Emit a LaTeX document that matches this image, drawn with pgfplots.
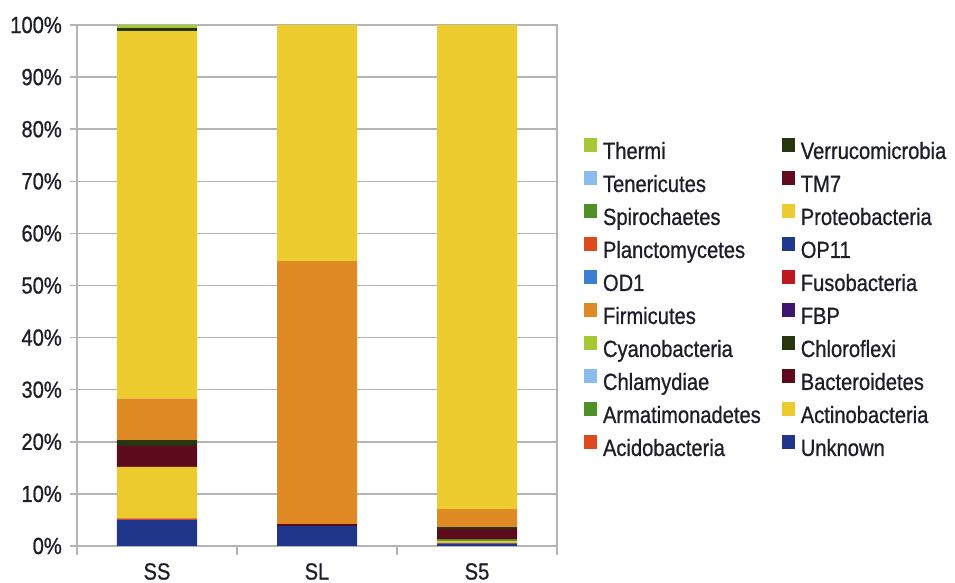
\documentclass[border=0pt]{standalone}
\usepackage{fontspec}
\setmainfont{Liberation Sans}[FakeStretch=0.86, FakeBold=0.8]
\usepackage{pgfplots}
\pgfplotsset{compat=1.18}
\usepackage{pgfplotstable}

\definecolor{tc}{HTML}{1E1E2A}
\definecolor{gc}{HTML}{B4B4B4}
\definecolor{cUnknown}{HTML}{20368A}
\definecolor{cAcido}{HTML}{DE4A1E}
\definecolor{cActino}{HTML}{EBCB2E}
\definecolor{cArmat}{HTML}{4E8F28}
\definecolor{cBactero}{HTML}{5C0A1C}
\definecolor{cChlamy}{HTML}{8CBCEB}
\definecolor{cChloro}{HTML}{26360F}
\definecolor{cCyano}{HTML}{A6C835}
\definecolor{cFBP}{HTML}{3E1670}
\definecolor{cFirmi}{HTML}{E08A25}
\definecolor{cFuso}{HTML}{BE1820}
\definecolor{cOD}{HTML}{3C7ED0}
\definecolor{cOP}{HTML}{1E3A8C}
\definecolor{cPlancto}{HTML}{DE4A1E}
\definecolor{cProteo}{HTML}{ECCC2F}
\definecolor{cSpiro}{HTML}{4E8F28}
\definecolor{cTM}{HTML}{620A1E}
\definecolor{cTeneri}{HTML}{8CBCEB}
\definecolor{cVerruco}{HTML}{26360F}
\definecolor{cThermi}{HTML}{A6C835}

\pgfplotstableread{
x Unknown Acido Actino Armat Bactero Chlamy Chloro Cyano FBP Firmi Fuso OD OP Plancto Proteo Spiro TM Teneri Verruco Thermi
0 5.0 0.3 9.9 0 4.0 0 1.1 0 0 8.0 0 0 0 0 70.5 0 0 0 0.6 0.6
1 3.8 0 0 0 0.4 0 0 0 0 50.5 0 0 0 0 45.3 0 0 0 0 0
2 0.5 0.1 0.4 0.3 2.0 0 0.3 0 0 3.5 0 0 0 0 92.9 0 0 0 0 0
}\datatable

\newcommand{\tfont}{\fontsize{23.5}{27}\selectfont}

\begin{document}
\begin{tikzpicture}
\path[use as bounding box] (0,0) rectangle (955bp,583bp);
\begin{axis}[
  at={(77bp,37bp)}, anchor=south west,
  scale only axis, width=480bp, height=521bp,
  ybar stacked, bar width=80bp,
  xmin=-0.5, xmax=2.5, ymin=0, ymax=100,
  enlargelimits=false,
  xtick={0,1,2}, xticklabels={SS,SL,S5},
  minor xtick={-0.5,0.5,1.5,2.5},
  ytick={0,10,20,30,40,50,60,70,80,90,100},
  yticklabels={0\%,10\%,20\%,30\%,40\%,50\%,60\%,70\%,80\%,90\%,100\%},
  ymajorgrids, grid style={gc, line width=1.5bp},
  axis line style={gc, line width=1.5bp},
  tick align=outside, tick pos=left,
  major tick length=7bp, minor tick length=9bp,
  major x tick style={draw=none},
  minor x tick style={gc, line width=1.5bp},
  y tick style={gc, line width=1.5bp},
  tick label style={font=\tfont, text=tc},
  yticklabel style={inner sep=0pt, xshift=-8bp},
  xticklabel style={inner sep=0pt, yshift=-10bp},
  legend image code/.code={\fill[#1] (0bp,1bp) rectangle (13bp,15bp);},
  reverse legend,
  legend columns=2,
  legend cell align=left,
  legend style={draw=none, fill=none, at={(axis description cs:1.05625,0.7832)}, anchor=north west,
    inner sep=0pt, outer sep=0pt, row sep=7bp, font=\tfont, text=tc,
    nodes={inner sep=0pt, text height=17bp, text depth=5bp},
    /tikz/every odd column/.append style={column sep=6bp},
    /tikz/every even column/.append style={column sep=21bp}},
]
\addplot[fill=cUnknown, draw=none] table[x=x,y=Unknown]{\datatable}; \addlegendentry{Unknown}
\addplot[fill=cAcido, draw=none] table[x=x,y=Acido]{\datatable}; \addlegendentry{Acidobacteria}
\addplot[fill=cActino, draw=none] table[x=x,y=Actino]{\datatable}; \addlegendentry{Actinobacteria}
\addplot[fill=cArmat, draw=none] table[x=x,y=Armat]{\datatable}; \addlegendentry{Armatimonadetes}
\addplot[fill=cBactero, draw=none] table[x=x,y=Bactero]{\datatable}; \addlegendentry{Bacteroidetes}
\addplot[fill=cChlamy, draw=none] table[x=x,y=Chlamy]{\datatable}; \addlegendentry{Chlamydiae}
\addplot[fill=cChloro, draw=none] table[x=x,y=Chloro]{\datatable}; \addlegendentry{Chloroflexi}
\addplot[fill=cCyano, draw=none] table[x=x,y=Cyano]{\datatable}; \addlegendentry{Cyanobacteria}
\addplot[fill=cFBP, draw=none] table[x=x,y=FBP]{\datatable}; \addlegendentry{FBP}
\addplot[fill=cFirmi, draw=none] table[x=x,y=Firmi]{\datatable}; \addlegendentry{Firmicutes}
\addplot[fill=cFuso, draw=none] table[x=x,y=Fuso]{\datatable}; \addlegendentry{Fusobacteria}
\addplot[fill=cOD, draw=none] table[x=x,y=OD]{\datatable}; \addlegendentry{OD1}
\addplot[fill=cOP, draw=none] table[x=x,y=OP]{\datatable}; \addlegendentry{OP11}
\addplot[fill=cPlancto, draw=none] table[x=x,y=Plancto]{\datatable}; \addlegendentry{Planctomycetes}
\addplot[fill=cProteo, draw=none] table[x=x,y=Proteo]{\datatable}; \addlegendentry{Proteobacteria}
\addplot[fill=cSpiro, draw=none] table[x=x,y=Spiro]{\datatable}; \addlegendentry{Spirochaetes}
\addplot[fill=cTM, draw=none] table[x=x,y=TM]{\datatable}; \addlegendentry{TM7}
\addplot[fill=cTeneri, draw=none] table[x=x,y=Teneri]{\datatable}; \addlegendentry{Tenericutes}
\addplot[fill=cVerruco, draw=none] table[x=x,y=Verruco]{\datatable}; \addlegendentry{Verrucomicrobia}
\addplot[fill=cThermi, draw=none] table[x=x,y=Thermi]{\datatable}; \addlegendentry{Thermi}
\end{axis}
\end{tikzpicture}
\end{document}
